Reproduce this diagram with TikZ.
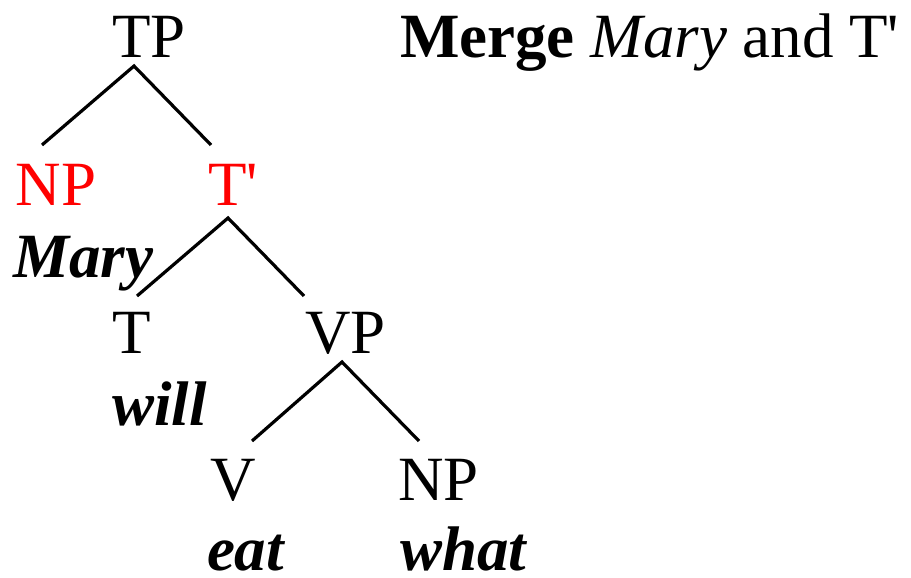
\documentclass[tikz,border=0pt]{standalone}
\usepackage{fontspec}
\setmainfont{Liberation Serif}
\newcommand{\pr}{\textquotesingle}
\begin{document}
\begin{tikzpicture}[x=1pt,y=-1pt,
  lbl/.style={anchor=base west,inner sep=0pt,outer sep=0pt,font=\fontsize{63}{75}\selectfont},
  word/.style={lbl,font=\fontsize{63}{75}\selectfont\bfseries\itshape},
  hl/.style={text=red},
  branch/.style={line width=3.2pt,draw=black}]
\useasboundingbox (0,0) rectangle (911,578);
% category labels
\node[lbl] (tp) at (112,58) {TP};
\node[lbl,hl] (np) at (16,205) {NP};
\node[lbl,hl] (tbar) at (208,205) {T\pr};
\node[word] (mary) at (13,277) {Mary};
\node[lbl] (t) at (112,353) {T};
\node[lbl] (vp) at (305,353) {VP};
\node[word] (will) at (112,425) {will};
\node[lbl] (v) at (210,500) {V};
\node[lbl] (np2) at (398,500) {NP};
\node[word] (eat) at (207,570) {eat};
\node[word] (what) at (400,570) {what};
\node[lbl] (title) at (400,58) {\textbf{Merge} \textit{Mary} and T\pr};
% branch points
\coordinate (tpa) at (134,66);
\coordinate (npt) at (42,145);
\coordinate (tbt) at (211,145);
\coordinate (tba) at (228,218);
\coordinate (tt) at (137,296);
\coordinate (vpt) at (304,296);
\coordinate (vpa) at (342,362);
\coordinate (vt) at (252,441);
\coordinate (np2t) at (419,441);
\draw[branch] (npt) -- (tpa) -- (tbt);
\draw[branch] (tt) -- (tba) -- (vpt);
\draw[branch] (vt) -- (vpa) -- (np2t);
\end{tikzpicture}
\end{document}
